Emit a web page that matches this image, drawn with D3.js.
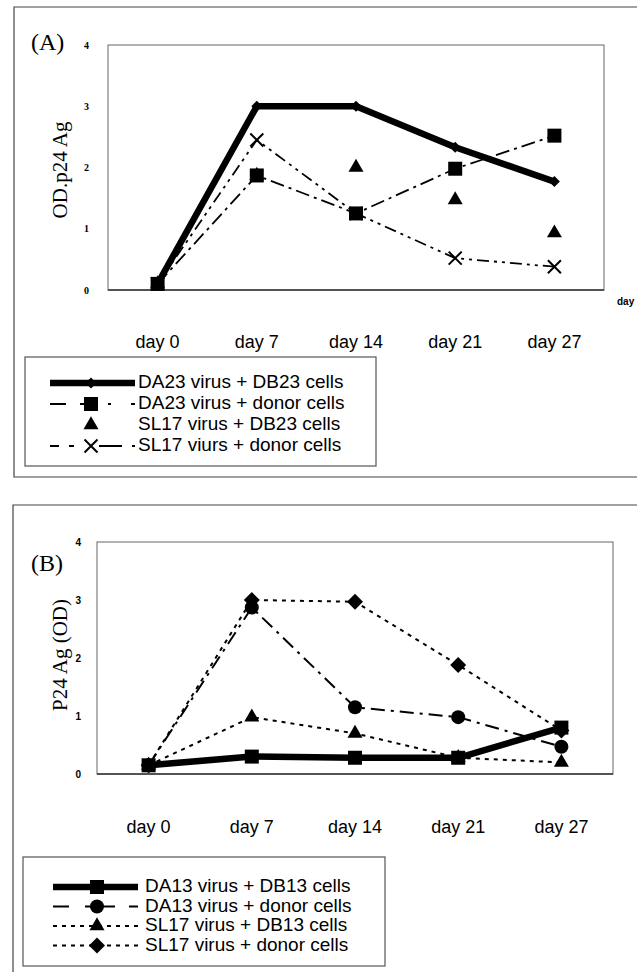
<!DOCTYPE html>
<html>
<head>
<meta charset="utf-8">
<script src="https://cdn.jsdelivr.net/npm/d3@7"></script>
<style>
  body { margin: 0; background: #fff; }
  svg { display: block; }
</style>
</head>
<body>
<div id="chart"></div>
<script>
// categories and tick labels
const days = ["day 0", "day 7", "day 14", "day 21", "day 27"];
const yTicks = [0, 1, 2, 3, 4];

// panel A values
const da23Db23 = [0.1, 3.0, 3.0, 2.33, 1.77];
const da23Donor = [0.1, 1.87, 1.25, 1.98, 2.52];
const sl17Db23 = [0.1, 1.87, 2.0, 1.47, 0.93];
const sl17DonorA = [0.1, 2.45, 1.25, 0.52, 0.38];
const legendA = ["DA23 virus + DB23 cells", "DA23  virus + donor cells", "SL17 virus + DB23 cells", "SL17 viurs + donor cells"];

// panel B values
const da13Db13 = [0.15, 0.3, 0.28, 0.28, 0.8];
const da13Donor = [0.15, 2.87, 1.15, 0.98, 0.47];
const sl17Db13 = [0.15, 0.98, 0.7, 0.28, 0.2];
const sl17DonorB = [0.15, 3.0, 2.97, 1.88, 0.75];
const legendB = ["DA13 virus + DB13 cells", "DA13 virus + donor cells", "SL17  virus + DB13 cells", "SL17 virus + donor cells"];

const width = 637, height = 972;
const serif = "'Liberation Serif', 'Times New Roman', serif";
const sans = "'Liberation Sans', Arial, sans-serif";

const svg = d3.select("#chart")
  .append("svg")
  .attr("width", width)
  .attr("height", height);

// draw one marker at (x, y); size is the visible width in px
function marker(g, type, x, y, size) {
  if (type === "x") {
    const h = size / 2;
    g.append("path")
      .attr("d", `M${x - h},${y - h}L${x + h},${y + h}M${x - h},${y + h}L${x + h},${y - h}`)
      .attr("stroke", "#000").attr("stroke-width", 2).attr("fill", "none");
    return;
  }
  let sym = d3.symbolSquare, area = size * size, rot = 0;
  if (type === "diamond") { area = size * size / 2; rot = 45; }
  if (type === "triangle") { sym = d3.symbolTriangle; area = size * size * Math.sqrt(3) / 4; }
  if (type === "circle") { sym = d3.symbolCircle; area = Math.PI * size * size / 4; }
  g.append("path")
    .attr("d", d3.symbol().type(sym).size(area)())
    .attr("transform", `translate(${x},${y}) rotate(${rot})`)
    .attr("fill", "#000");
}

function drawPanel(cfg) {
  const g = svg.append("g");

  // outer frame (open on the right)
  g.append("path")
    .attr("d", `M${width + 2},${cfg.frame.top}H${cfg.frame.left}V${cfg.frame.bottom}H${width + 2}`)
    .attr("fill", "none").attr("stroke", "#444").attr("stroke-width", 1.2);

  g.append("text")
    .attr("x", cfg.tag.x).attr("y", cfg.tag.y)
    .attr("dominant-baseline", "middle")
    .style("font-family", serif).style("font-size", "24px")
    .text(cfg.tag.text);

  const x = d3.scaleBand().domain(days).range([cfg.plot.left, cfg.plot.right]);
  const y = d3.scaleLinear().domain([0, 4]).range([cfg.plot.bottom, cfg.plot.top]);

  // plot box
  g.append("rect")
    .attr("x", cfg.plot.left).attr("y", cfg.plot.top)
    .attr("width", cfg.plot.right - cfg.plot.left)
    .attr("height", cfg.plot.bottom - cfg.plot.top)
    .attr("fill", "none").attr("stroke", "#666").attr("stroke-width", 1);
  g.append("line")
    .attr("x1", cfg.plot.left).attr("x2", cfg.plot.right)
    .attr("y1", cfg.plot.bottom).attr("y2", cfg.plot.bottom)
    .attr("stroke", "#333").attr("stroke-width", 1.3);

  // y axis labels
  const yAxis = g.append("g")
    .attr("transform", `translate(${cfg.plot.left},0)`)
    .call(d3.axisLeft(y).tickValues(yTicks).tickSize(0).tickPadding(cfg.tickPad).tickFormat(d3.format("d")));
  yAxis.select(".domain").remove();
  yAxis.selectAll("text")
    .style("font-family", cfg.tickFont).style("font-size", cfg.tickSize).style("font-weight", "bold");

  g.append("text")
    .attr("transform", `translate(${cfg.yTitle.x},${cfg.yTitle.y}) rotate(-90)`)
    .attr("text-anchor", "middle").attr("dominant-baseline", "middle")
    .style("font-family", serif).style("font-size", "21px")
    .text(cfg.yTitle.text);

  // category labels
  const xAxis = g.append("g")
    .attr("transform", `translate(0,${cfg.catY})`)
    .call(d3.axisBottom(x).tickSize(0).tickPadding(0));
  xAxis.select(".domain").remove();
  xAxis.selectAll("text")
    .attr("dy", "0.35em")
    .style("font-family", sans).style("font-size", "18px");

  const line = d3.line()
    .x((d, i) => x(days[i]) + x.bandwidth() / 2)
    .y(d => y(d));

  cfg.series.forEach(s => {
    if (s.width > 0) {
      g.append("path")
        .datum(s.values)
        .attr("d", line)
        .attr("fill", "none")
        .attr("stroke", "#000")
        .attr("stroke-width", s.width)
        .attr("stroke-linejoin", "round")
        .attr("stroke-dasharray", s.dash);
    }
    s.values.forEach((v, i) => marker(g, s.marker, x(days[i]) + x.bandwidth() / 2, y(v), s.size));
  });

  // legend
  const L = cfg.legend;
  g.append("rect")
    .attr("x", L.x).attr("y", L.y).attr("width", L.w).attr("height", L.h)
    .attr("fill", "#fff").attr("stroke", "#555").attr("stroke-width", 1.2);
  cfg.legendOrder.forEach((s, i) => {
    const ry = L.firstRow + i * L.rowGap;
    if (s.width > 0) {
      g.append("line")
        .attr("x1", L.lineX1).attr("x2", L.lineX2).attr("y1", ry).attr("y2", ry)
        .attr("stroke", "#000").attr("stroke-width", s.width)
        .attr("stroke-dasharray", s.legendDash || s.dash);
    }
    marker(g, s.marker, L.markX, ry, s.size);
    g.append("text")
      .attr("x", L.textX).attr("y", ry)
      .attr("dominant-baseline", "middle")
      .style("font-family", sans).style("font-size", "19px")
      .text(s.label);
  });
  return g;
}

// panel A
const seriesA = [
  { label: legendA[0], values: da23Db23, width: 6.5, dash: null, marker: "diamond", size: 11 },
  { label: legendA[1], values: da23Donor, width: 1.8, dash: "14,5,3,5", legendDash: "16,14,16,12,3,20", marker: "square", size: 14 },
  { label: legendA[2], values: sl17Db23, width: 0, dash: null, marker: "triangle", size: 15 },
  { label: legendA[3], values: sl17DonorA, width: 1.8, dash: "12,5,3,5,3,5", legendDash: "9,10,5,25,14,0", marker: "x", size: 13 }
];
const panelA = drawPanel({
  frame: { left: 14, top: 7, bottom: 477 },
  tag: { x: 31, y: 44, text: "(A)" },
  plot: { left: 108, right: 604, top: 45, bottom: 290 },
  tickPad: 19, tickFont: serif, tickSize: "10px",
  yTitle: { x: 62, y: 170, text: "OD.p24 Ag" },
  catY: 342,
  series: seriesA,
  legendOrder: seriesA,
  legend: { x: 25, y: 357, w: 351, h: 109, firstRow: 383, rowGap: 21, lineX1: 50, lineX2: 135, markX: 91, textX: 138 }
});
panelA.append("text")
  .attr("x", 617).attr("y", 302)
  .attr("dominant-baseline", "middle")
  .style("font-family", sans).style("font-size", "10px").style("font-weight", "bold")
  .text("day");

// panel B
const seriesB = [
  { label: legendB[3], values: sl17DonorB, width: 2, dash: "4,5", marker: "diamond", size: 16 },
  { label: legendB[1], values: da13Donor, width: 2, dash: "14,6,3,6", legendDash: "16,16,30,14,3,0", marker: "circle", size: 14 },
  { label: legendB[2], values: sl17Db13, width: 2, dash: "4,5", marker: "triangle", size: 15 },
  { label: legendB[0], values: da13Db13, width: 6.5, dash: null, marker: "square", size: 14 }
];
drawPanel({
  frame: { left: 13, top: 505, bottom: 990 },
  tag: { x: 31, y: 565, text: "(B)" },
  plot: { left: 97, right: 613, top: 542, bottom: 774 },
  tickPad: 16, tickFont: sans, tickSize: "10px",
  yTitle: { x: 62, y: 655, text: "P24 Ag (OD)" },
  catY: 827,
  series: seriesB,
  legendOrder: [seriesB[3], seriesB[1], seriesB[2], seriesB[0]],
  legend: { x: 23, y: 857, w: 362, h: 109, firstRow: 887, rowGap: 19.5, lineX1: 53, lineX2: 138, markX: 97, textX: 145 }
});
</script>
</body>
</html>
